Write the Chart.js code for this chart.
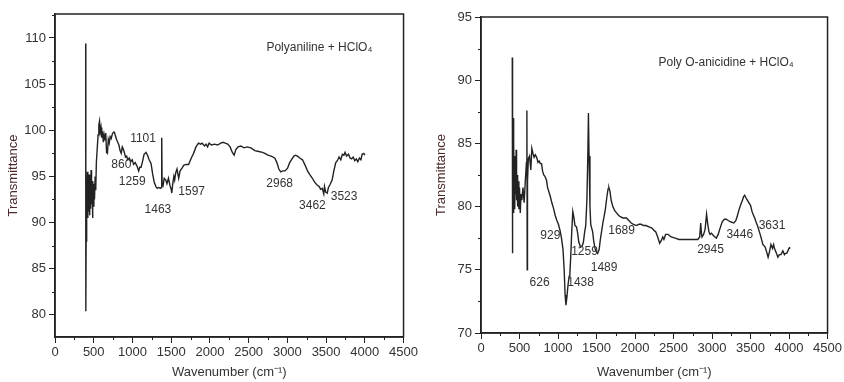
<!DOCTYPE html>
<html>
<head>
<meta charset="utf-8">
<script src="https://cdn.jsdelivr.net/npm/chart.js@4/dist/chart.umd.min.js"></script>
<style>
  body { margin: 0; background: #fff; }
  .box { position: absolute; top: 0; height: 382px; }
  #b1 { left: 0; width: 420px; }
  #b2 { left: 420px; width: 424px; }
</style>
</head>
<body>
<div class="box" id="b1"><canvas id="graf-pani"></canvas></div>
<div class="box" id="b2"><canvas id="graf-poa"></canvas></div>
<script>
// Polyaniline + HClO4 (painel esquerdo)
const paniWn = [396,398,402,406,412,418,424,430,436,442,448,454,460,466,472,478,484,490,496,502,510,518,526,534,545,556,566,575,584,594,604,614,624,634,645,655,666,677,688,700,712,725,740,755,767,780,795,810,825,840,855,869,880,895,910,925,940,960,980,997,1015,1035,1060,1080,1095,1111,1130,1150,1175,1195,1215,1240,1260,1280,1303,1320,1340,1360,1372,1378,1383,1395,1410,1431,1445,1465,1485,1500,1508,1520,1535,1545,1559,1575,1597,1615,1640,1661,1690,1725,1760,1789,1820,1853,1880,1900,1930,1950,1970,1990,2020,2060,2100,2140,2170,2198,2230,2260,2290,2313,2335,2364,2400,2440,2480,2530,2580,2630,2680,2709,2750,2790,2837,2865,2890,2914,2940,2970,3003,3030,3060,3085,3106,3130,3160,3195,3230,3260,3290,3323,3350,3380,3410,3430,3451,3470,3480,3495,3515,3530,3550,3578,3600,3625,3645,3668,3690,3710,3730,3745,3765,3790,3809,3830,3850,3870,3890,3910,3930,3950,3965,3987,4000];
const paniT = [109.4,80.4,88,93,91,95.5,90.5,94.8,91.2,95.2,90.8,94,91.5,95.7,92,94.5,90.5,93.5,91.8,94.2,92.5,95,93.5,96.5,98,99.5,100.6,101,99.8,100.3,99.2,99.9,98.7,99.5,98.9,99.7,97.6,97.5,99,98.6,99.3,99.1,99.6,99.8,99.8,99.4,99.0,98.7,98.4,97.8,97.5,98.2,98.0,97.6,97.1,97.2,96.8,97.0,96.6,96.8,96.3,96.5,96.1,95.6,96.0,96.0,96.6,97.4,97.6,97.3,96.8,96.4,95.3,94.4,93.9,93.7,93.8,93.7,93.8,99.2,94.2,94.0,94.8,94.6,94.2,94.8,94.0,93.6,93.2,94.2,95.0,94.6,95.4,95.8,94.8,95.6,95.9,96.2,96.3,96.3,97.0,97.5,98.2,98.6,98.5,98.6,98.3,98.5,98.2,98.6,98.4,98.5,98.4,98.6,98.7,98.6,98.5,98.2,97.6,97.3,97.9,98.2,98.3,98.1,98.2,98.1,97.8,97.7,97.6,97.5,97.3,97.2,97.0,96.5,95.8,95.5,95.6,95.6,95.9,96.5,96.9,97.2,97.3,97.2,97.0,96.8,96.2,95.6,95.2,94.8,94.4,94.1,93.9,93.6,93.7,93.1,93.9,93.3,93.2,93.8,94.1,94.6,95.6,96.5,96.7,97.1,96.8,97.4,97.3,97.6,97.2,97.4,97.0,96.9,97.1,96.7,96.9,96.6,97.0,96.8,97.4,97.5,97.3];
const paniYTicks = [80, 85, 90, 95, 100, 105, 110];
const paniNotes = [
  ["1101", 1137, 99.1], ["860", 856, 96.3], ["1259", 997, 94.4], ["1463", 1329, 91.4],
  ["1597", 1764, 93.4], ["2968", 2901, 94.2], ["3462", 3323, 91.8], ["3523", 3732, 92.8]
];

// Poly O-anicidine + HClO4 (painel direito)
const poaWn = [406,408,412,416,420,424,428,432,436,440,444,450,456,462,468,476,484,492,500,510,520,530,545,560,575,590,596,600,604,615,630,647,660,675,690,705,723,740,755,770,786,800,815,830,850,865,880,900,920,940,964,985,1005,1027,1045,1065,1080,1092,1103,1115,1130,1145,1154,1165,1178,1192,1205,1220,1240,1255,1270,1293,1315,1330,1344,1360,1375,1387,1395,1403,1415,1425,1433,1450,1465,1484,1500,1515,1534,1550,1570,1585,1598,1615,1635,1650,1661,1675,1690,1712,1735,1760,1788,1810,1840,1870,1889,1920,1950,1980,2016,2050,2080,2110,2140,2181,2220,2250,2270,2295,2320,2340,2360,2375,2397,2430,2470,2523,2570,2612,2650,2700,2760,2815,2840,2853,2862,2870,2890,2910,2929,2945,2960,2975,2993,3020,3056,3080,3105,3132,3160,3183,3210,3240,3284,3310,3330,3348,3370,3395,3410,3424,3440,3460,3480,3500,3520,3540,3560,3576,3590,3610,3625,3639,3660,3690,3710,3728,3745,3765,3785,3800,3810,3830,3855,3875,3895,3920,3940,3955,3970,3985,4000,4007];
const poaT = [91.8,76.3,86,80,87,79.5,85,80.5,84,79.8,83,81,84.5,80.5,82.5,80,82,79.8,81.5,79.5,81,80.5,81.5,80.3,82,83.5,87.6,75.0,82,83.8,84.0,82.9,84.6,84.2,83.9,84.1,83.9,83.5,83.6,83.4,83.4,82.8,82.5,82.4,82.1,81.5,81.2,80.8,80.3,79.9,79.3,78.9,78.6,78.1,77.5,76.6,75,73,72.2,72.8,73.8,74.5,74.7,76,78,79.6,79.2,78.5,78.4,77.9,77.2,76.8,76.9,77.2,77.9,78.5,80.5,84,87.4,84,80,78.6,78.4,78.0,77.2,76.6,76.4,76.3,76.6,77.4,78.2,78.8,79.2,79.8,80.8,81.4,81.5,81.2,80.5,80.0,79.7,79.5,79.3,79.2,79.1,79.1,79.1,78.9,78.7,78.6,78.5,78.6,78.6,78.5,78.5,78.4,78.3,78.1,78.0,77.6,77.1,77.3,77.6,77.4,77.8,77.8,77.6,77.5,77.4,77.4,77.4,77.4,77.4,77.4,77.6,78.7,77.9,77.6,77.8,78.2,79.4,78.6,78.0,77.8,77.9,77.7,77.5,77.8,78.3,78.8,79.0,79.0,78.9,78.8,78.7,78.9,79.3,79.7,80.1,80.5,80.8,80.9,80.7,80.5,80.3,80.1,79.6,79.3,79.0,78.7,78.5,78.1,77.8,77.5,77.0,76.8,76.4,76.0,76.4,77.0,76.7,77.0,76.7,76.4,76.0,76.2,76.2,76.5,76.2,76.3,76.3,76.5,76.7,76.8];
const poaYTicks = [70, 75, 80, 85, 90, 95];
const poaNotes = [
  ["929", 900, 77.7], ["626", 761, 74.0], ["1259", 1344, 76.4], ["1438", 1293, 74.0],
  ["1489", 1598, 75.2], ["1689", 1826, 78.1], ["2945", 2980, 76.6], ["3446", 3360, 77.8],
  ["3631", 3779, 78.5]
];

const xTicks = [0, 500, 1000, 1500, 2000, 2500, 3000, 3500, 4000, 4500];
const FONT = "'Liberation Sans', Arial, sans-serif";
const INK = "#222";

// moldura, ticks menores e rótulos dos picos
const extras = {
  id: "extras",
  afterDraw(chart, args, opts) {
    const { ctx, chartArea: a, scales: { x, y } } = chart;
    ctx.save();
    ctx.strokeStyle = INK;
    ctx.lineWidth = 1.5;
    ctx.strokeRect(a.left, a.top, a.right - a.left, a.bottom - a.top);
    ctx.lineWidth = 1;
    ctx.beginPath();
    for (let v = 250; v < 4500; v += 500) {
      const px = Math.round(x.getPixelForValue(v)) + 0.5;
      ctx.moveTo(px, a.bottom); ctx.lineTo(px, a.bottom + 3);
    }
    for (let v = opts.yTicks[0] - 2.5; v <= y.max; v += 5) {
      if (v < y.min) continue;
      const py = Math.round(y.getPixelForValue(v)) + 0.5;
      ctx.moveTo(a.left, py); ctx.lineTo(a.left - 3, py);
    }
    ctx.stroke();
    ctx.fillStyle = "#333";
    ctx.font = "12px " + FONT;
    ctx.textAlign = "center";
    ctx.textBaseline = "middle";
    opts.notes.forEach(([t, wx, wy]) => {
      ctx.fillText(t, x.getPixelForValue(wx), y.getPixelForValue(wy));
    });
    ctx.fillText(opts.title, x.getPixelForValue(opts.titlePos[0]), y.getPixelForValue(opts.titlePos[1]));
    ctx.restore();
  }
};

function makeChart(id, wn, t, yMin, yMax, yTicks, notes, title, titlePos, pad, yw, xh, ytPad) {
  return new Chart(document.getElementById(id), {
    type: "scatter",
    data: {
      datasets: [{
        data: wn.map((v, i) => ({ x: v, y: t[i] })),
        showLine: true,
        borderColor: INK,
        borderWidth: 1.4,
        pointRadius: 0,
        tension: 0
      }]
    },
    options: {
      responsive: true,
      maintainAspectRatio: false,
      animation: false,
      layout: { padding: pad },
      plugins: {
        legend: { display: false },
        tooltip: { enabled: false },
        extras: { notes: notes, title: title, titlePos: titlePos, yTicks: yTicks }
      },
      scales: {
        x: {
          type: "linear", min: 0, max: 4500,
          afterBuildTicks: s => { s.ticks = xTicks.map(v => ({ value: v })); },
          afterFit: s => { s.height = xh; },
          grid: { drawOnChartArea: false, tickLength: 6, color: INK },
          border: { color: INK, width: 1.5 },
          ticks: { color: "#333", font: { family: FONT, size: 13 }, padding: 2, maxRotation: 0,
                   callback: v => String(v) },
          title: { display: true, text: "Wavenumber (cm\u207B\u00B9)", color: "#333",
                   font: { family: FONT, size: 13 }, padding: { top: 0, bottom: 2 } }
        },
        y: {
          type: "linear", min: yMin, max: yMax,
          afterBuildTicks: s => { s.ticks = yTicks.map(v => ({ value: v })); },
          afterFit: s => { s.width = yw; },
          grid: { drawOnChartArea: false, tickLength: 6, color: INK },
          border: { color: INK, width: 1.5 },
          ticks: { color: "#333", font: { family: FONT, size: 13 }, padding: 3,
                   callback: v => String(v) },
          title: { display: true, text: "Transmittance", color: "#4a2a2a",
                   font: { family: FONT, size: 13 }, padding: { top: ytPad, bottom: 0 } }
        }
      }
    },
    plugins: [extras]
  });
}

document.addEventListener("DOMContentLoaded", () => {
  makeChart("graf-pani", paniWn, paniT, 77.6, 112.6, paniYTicks, paniNotes,
    "Polyaniline + HClO\u2084", [3413, 109.0], { left: 0, right: 13, top: 14, bottom: 0 }, 55, 45, 6);
  makeChart("graf-poa", poaWn, poaT, 70, 95, poaYTicks, poaNotes,
    "Poly O-anicidine + HClO\u2084", [3183, 91.4], { left: 0, right: 8, top: 17, bottom: 0 }, 61, 49, 14);
});
</script>
</body>
</html>
